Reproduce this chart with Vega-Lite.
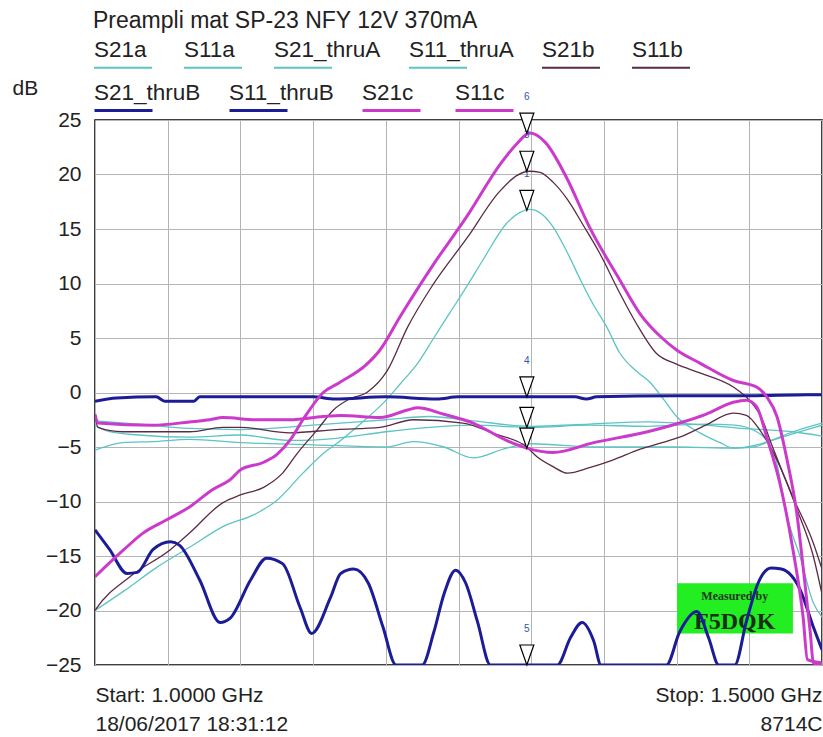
{
"$schema": "https://vega.github.io/schema/vega-lite/v6.json",
"width": 727, "height": 545,
"autosize": {"type": "none"},
"padding": {"left": 95, "top": 120, "right": 1, "bottom": 72},
"background": "white",
"config": {"font": "Liberation Sans", "view": {"stroke": "#000", "strokeWidth": 1.5}},
"datasets": {
"curves": [
{"s":"S21a","f":1000,"v":-20},{"s":"S21a","f":1020,"v":-18.2},{"s":"S21a","f":1043,"v":-16},{"s":"S21a","f":1065,"v":-14.2},{"s":"S21a","f":1088,"v":-12.3},{"s":"S21a","f":1111,"v":-11.1},{"s":"S21a","f":1125,"v":-9.9},{"s":"S21a","f":1143,"v":-7.4},{"s":"S21a","f":1157,"v":-5.6},{"s":"S21a","f":1169,"v":-4.4},{"s":"S21a","f":1185,"v":-2.6},{"s":"S21a","f":1198,"v":-1.0},{"s":"S21a","f":1210,"v":0.8},{"s":"S21a","f":1222,"v":2.7},{"s":"S21a","f":1233,"v":5.0},{"s":"S21a","f":1244,"v":7.3},{"s":"S21a","f":1256,"v":9.8},{"s":"S21a","f":1267,"v":12.2},{"s":"S21a","f":1283,"v":15.5},{"s":"S21a","f":1292,"v":16.5},{"s":"S21a","f":1299,"v":16.8},{"s":"S21a","f":1307,"v":16.4},{"s":"S21a","f":1315,"v":15.2},{"s":"S21a","f":1325,"v":12.8},{"s":"S21a","f":1334,"v":10.3},{"s":"S21a","f":1343,"v":8.0},{"s":"S21a","f":1352,"v":6.0},{"s":"S21a","f":1361,"v":3.6},{"s":"S21a","f":1372,"v":2.0},{"s":"S21a","f":1382,"v":0.9},{"s":"S21a","f":1392,"v":-0.8},{"s":"S21a","f":1400,"v":-2.2},{"s":"S21a","f":1416,"v":-3.7},{"s":"S21a","f":1430,"v":-4.6},{"s":"S21a","f":1439,"v":-5.1},{"s":"S21a","f":1453,"v":-5.0},{"s":"S21a","f":1465,"v":-4.4},{"s":"S21a","f":1480,"v":-3.6},{"s":"S21a","f":1500,"v":-2.8},
{"s":"S11a","f":1000,"v":-3.0},{"s":"S11a","f":1010,"v":-3.6},{"s":"S11a","f":1030,"v":-3.9},{"s":"S11a","f":1065,"v":-4.1},{"s":"S11a","f":1100,"v":-3.9},{"s":"S11a","f":1134,"v":-4.4},{"s":"S11a","f":1166,"v":-4.2},{"s":"S11a","f":1200,"v":-3.6},{"s":"S11a","f":1230,"v":-3.2},{"s":"S11a","f":1260,"v":-3.0},{"s":"S11a","f":1300,"v":-3.2},{"s":"S11a","f":1340,"v":-3.0},{"s":"S11a","f":1380,"v":-3.1},{"s":"S11a","f":1420,"v":-2.9},{"s":"S11a","f":1440,"v":-3.0},{"s":"S11a","f":1455,"v":-3.6},{"s":"S11a","f":1462,"v":-4.4},{"s":"S11a","f":1468,"v":-6.0},{"s":"S11a","f":1476,"v":-11.4},{"s":"S11a","f":1485,"v":-15.1},{"s":"S11a","f":1494,"v":-19.3},{"s":"S11a","f":1500,"v":-20.6},
{"s":"S21_thruA","f":1000,"v":-5.3},{"s":"S21_thruA","f":1019,"v":-4.6},{"s":"S21_thruA","f":1040,"v":-4.5},{"s":"S21_thruA","f":1065,"v":-4.3},{"s":"S21_thruA","f":1100,"v":-4.6},{"s":"S21_thruA","f":1150,"v":-4.8},{"s":"S21_thruA","f":1200,"v":-5.0},{"s":"S21_thruA","f":1219,"v":-4.5},{"s":"S21_thruA","f":1240,"v":-5.0},{"s":"S21_thruA","f":1260,"v":-6.0},{"s":"S21_thruA","f":1283,"v":-5.1},{"s":"S21_thruA","f":1300,"v":-4.7},{"s":"S21_thruA","f":1345,"v":-5.0},{"s":"S21_thruA","f":1400,"v":-5.0},{"s":"S21_thruA","f":1440,"v":-5.1},{"s":"S21_thruA","f":1455,"v":-4.8},{"s":"S21_thruA","f":1470,"v":-4.2},{"s":"S21_thruA","f":1485,"v":-3.6},{"s":"S21_thruA","f":1500,"v":-3.0},
{"s":"S11_thruA","f":1000,"v":-2.6},{"s":"S11_thruA","f":1030,"v":-2.9},{"s":"S11_thruA","f":1065,"v":-3.3},{"s":"S11_thruA","f":1100,"v":-3.4},{"s":"S11_thruA","f":1150,"v":-3.0},{"s":"S11_thruA","f":1200,"v":-2.5},{"s":"S11_thruA","f":1230,"v":-2.2},{"s":"S11_thruA","f":1260,"v":-2.6},{"s":"S11_thruA","f":1300,"v":-3.1},{"s":"S11_thruA","f":1340,"v":-2.9},{"s":"S11_thruA","f":1380,"v":-2.7},{"s":"S11_thruA","f":1420,"v":-3.0},{"s":"S11_thruA","f":1445,"v":-3.3},{"s":"S11_thruA","f":1460,"v":-3.4},{"s":"S11_thruA","f":1480,"v":-3.6},{"s":"S11_thruA","f":1500,"v":-4.0},
{"s":"S21b","f":1000,"v":-20},{"s":"S21b","f":1001,"v":-19.8},{"s":"S21b","f":1024,"v":-16.9},{"s":"S21b","f":1052,"v":-14.4},{"s":"S21b","f":1065,"v":-12.9},{"s":"S21b","f":1088,"v":-10.1},{"s":"S21b","f":1100,"v":-9.4},{"s":"S21b","f":1116,"v":-8.7},{"s":"S21b","f":1129,"v":-7.4},{"s":"S21b","f":1139,"v":-5.6},{"s":"S21b","f":1153,"v":-3.4},{"s":"S21b","f":1164,"v":-1.6},{"s":"S21b","f":1175,"v":-0.6},{"s":"S21b","f":1187,"v":0},{"s":"S21b","f":1201,"v":2.0},{"s":"S21b","f":1215,"v":6.0},{"s":"S21b","f":1232,"v":9.8},{"s":"S21b","f":1256,"v":14.2},{"s":"S21b","f":1278,"v":18.4},{"s":"S21b","f":1290,"v":19.9},{"s":"S21b","f":1299,"v":20.3},{"s":"S21b","f":1306,"v":20.2},{"s":"S21b","f":1315,"v":19.3},{"s":"S21b","f":1325,"v":17.7},{"s":"S21b","f":1336,"v":15.3},{"s":"S21b","f":1347,"v":12.8},{"s":"S21b","f":1361,"v":9.1},{"s":"S21b","f":1372,"v":6.4},{"s":"S21b","f":1386,"v":3.6},{"s":"S21b","f":1400,"v":2.6},{"s":"S21b","f":1416,"v":1.8},{"s":"S21b","f":1439,"v":0.5},{"s":"S21b","f":1450,"v":-0.7},{"s":"S21b","f":1458,"v":-2.2},{"s":"S21b","f":1466,"v":-5.0},{"s":"S21b","f":1480,"v":-9.6},{"s":"S21b","f":1494,"v":-13.8},{"s":"S21b","f":1500,"v":-16.2},
{"s":"S11b","f":1000,"v":-2.0},{"s":"S11b","f":1002,"v":-3.2},{"s":"S11b","f":1019,"v":-3.6},{"s":"S11b","f":1065,"v":-3.6},{"s":"S11b","f":1088,"v":-3.2},{"s":"S11b","f":1100,"v":-3.2},{"s":"S11b","f":1134,"v":-3.7},{"s":"S11b","f":1166,"v":-3.4},{"s":"S11b","f":1196,"v":-3.2},{"s":"S11b","f":1219,"v":-2.5},{"s":"S11b","f":1253,"v":-2.8},{"s":"S11b","f":1275,"v":-3.8},{"s":"S11b","f":1297,"v":-5.0},{"s":"S11b","f":1304,"v":-5.9},{"s":"S11b","f":1315,"v":-6.8},{"s":"S11b","f":1325,"v":-7.4},{"s":"S11b","f":1340,"v":-6.9},{"s":"S11b","f":1356,"v":-6.2},{"s":"S11b","f":1375,"v":-5.2},{"s":"S11b","f":1390,"v":-4.6},{"s":"S11b","f":1402,"v":-4.1},{"s":"S11b","f":1420,"v":-3.0},{"s":"S11b","f":1439,"v":-1.9},{"s":"S11b","f":1448,"v":-2.1},{"s":"S11b","f":1457,"v":-3.4},{"s":"S11b","f":1469,"v":-6.2},{"s":"S11b","f":1483,"v":-10.8},{"s":"S11b","f":1494,"v":-15.0},{"s":"S11b","f":1500,"v":-18.5},
{"s":"S21_thruB","f":1000,"v":-0.8},{"s":"S21_thruB","f":1015,"v":-0.5},{"s":"S21_thruB","f":1042,"v":-0.4},{"s":"S21_thruB","f":1048,"v":-0.8},{"s":"S21_thruB","f":1068,"v":-0.8},{"s":"S21_thruB","f":1072,"v":-0.4},{"s":"S21_thruB","f":1150,"v":-0.4},{"s":"S21_thruB","f":1165,"v":-0.6},{"s":"S21_thruB","f":1200,"v":-0.4},{"s":"S21_thruB","f":1235,"v":-0.6},{"s":"S21_thruB","f":1250,"v":-0.4},{"s":"S21_thruB","f":1330,"v":-0.4},{"s":"S21_thruB","f":1338,"v":-0.6},{"s":"S21_thruB","f":1345,"v":-0.4},{"s":"S21_thruB","f":1400,"v":-0.3},{"s":"S21_thruB","f":1450,"v":-0.3},{"s":"S21_thruB","f":1490,"v":-0.2},{"s":"S21_thruB","f":1500,"v":-0.2},
{"s":"S11_thruB","f":1000,"v":-12.6},{"s":"S11_thruB","f":1010,"v":-14.4},{"s":"S11_thruB","f":1022,"v":-16.6},{"s":"S11_thruB","f":1029,"v":-16.5},{"s":"S11_thruB","f":1040,"v":-14.4},{"s":"S11_thruB","f":1052,"v":-13.7},{"s":"S11_thruB","f":1058,"v":-14.0},{"s":"S11_thruB","f":1072,"v":-17.2},{"s":"S11_thruB","f":1086,"v":-21.1},{"s":"S11_thruB","f":1093,"v":-20.7},{"s":"S11_thruB","f":1107,"v":-17.2},{"s":"S11_thruB","f":1118,"v":-15.2},{"s":"S11_thruB","f":1129,"v":-15.7},{"s":"S11_thruB","f":1141,"v":-19.7},{"s":"S11_thruB","f":1149,"v":-22.1},{"s":"S11_thruB","f":1162,"v":-18.8},{"s":"S11_thruB","f":1169,"v":-16.6},{"s":"S11_thruB","f":1178,"v":-16.2},{"s":"S11_thruB","f":1188,"v":-17.5},{"s":"S11_thruB","f":1198,"v":-21.5},{"s":"S11_thruB","f":1207,"v":-25},{"s":"S11_thruB","f":1225,"v":-25},{"s":"S11_thruB","f":1233,"v":-22},{"s":"S11_thruB","f":1240,"v":-18.5},{"s":"S11_thruB","f":1248,"v":-16.3},{"s":"S11_thruB","f":1255,"v":-17.5},{"s":"S11_thruB","f":1263,"v":-21},{"s":"S11_thruB","f":1272,"v":-25},{"s":"S11_thruB","f":1318,"v":-25},{"s":"S11_thruB","f":1327,"v":-22.5},{"s":"S11_thruB","f":1335,"v":-21.1},{"s":"S11_thruB","f":1343,"v":-22.8},{"s":"S11_thruB","f":1348,"v":-25},{"s":"S11_thruB","f":1393,"v":-25},{"s":"S11_thruB","f":1402,"v":-22},{"s":"S11_thruB","f":1414,"v":-20.1},{"s":"S11_thruB","f":1422,"v":-22.5},{"s":"S11_thruB","f":1429,"v":-25},{"s":"S11_thruB","f":1440,"v":-25},{"s":"S11_thruB","f":1448,"v":-21},{"s":"S11_thruB","f":1456,"v":-17.5},{"s":"S11_thruB","f":1465,"v":-16.1},{"s":"S11_thruB","f":1472,"v":-16.2},{"s":"S11_thruB","f":1485,"v":-18.1},{"s":"S11_thruB","f":1494,"v":-21.5},{"s":"S11_thruB","f":1500,"v":-23.6},
{"s":"S21c","f":1000,"v":-16.9},{"s":"S21c","f":1020,"v":-14.4},{"s":"S21c","f":1033,"v":-12.9},{"s":"S21c","f":1049,"v":-11.7},{"s":"S21c","f":1065,"v":-10.5},{"s":"S21c","f":1081,"v":-8.9},{"s":"S21c","f":1093,"v":-8.0},{"s":"S21c","f":1100,"v":-7.1},{"s":"S21c","f":1116,"v":-6.4},{"s":"S21c","f":1125,"v":-5.7},{"s":"S21c","f":1134,"v":-4.4},{"s":"S21c","f":1143,"v":-2.5},{"s":"S21c","f":1157,"v":0.0},{"s":"S21c","f":1168,"v":0.9},{"s":"S21c","f":1187,"v":2.6},{"s":"S21c","f":1196,"v":3.9},{"s":"S21c","f":1210,"v":7.0},{"s":"S21c","f":1232,"v":11.6},{"s":"S21c","f":1256,"v":16.2},{"s":"S21c","f":1279,"v":21.0},{"s":"S21c","f":1290,"v":22.8},{"s":"S21c","f":1299,"v":23.8},{"s":"S21c","f":1310,"v":22.9},{"s":"S21c","f":1324,"v":19.8},{"s":"S21c","f":1340,"v":15.2},{"s":"S21c","f":1361,"v":10.3},{"s":"S21c","f":1375,"v":7.2},{"s":"S21c","f":1390,"v":5.0},{"s":"S21c","f":1400,"v":3.9},{"s":"S21c","f":1416,"v":2.7},{"s":"S21c","f":1439,"v":1.1},{"s":"S21c","f":1455,"v":0.5},{"s":"S21c","f":1462,"v":-0.4},{"s":"S21c","f":1469,"v":-2.2},{"s":"S21c","f":1476,"v":-6.2},{"s":"S21c","f":1483,"v":-11.4},{"s":"S21c","f":1487,"v":-16.0},{"s":"S21c","f":1492,"v":-22.1},{"s":"S21c","f":1494,"v":-24.8},{"s":"S21c","f":1500,"v":-25},
{"s":"S11c","f":1000,"v":-2.0},{"s":"S11c","f":1002,"v":-2.8},{"s":"S11c","f":1040,"v":-3.0},{"s":"S11c","f":1065,"v":-2.7},{"s":"S11c","f":1079,"v":-2.5},{"s":"S11c","f":1088,"v":-2.3},{"s":"S11c","f":1111,"v":-2.5},{"s":"S11c","f":1134,"v":-2.5},{"s":"S11c","f":1157,"v":-2.2},{"s":"S11c","f":1169,"v":-2.1},{"s":"S11c","f":1196,"v":-2.3},{"s":"S11c","f":1215,"v":-1.6},{"s":"S11c","f":1222,"v":-1.4},{"s":"S11c","f":1240,"v":-2.0},{"s":"S11c","f":1260,"v":-2.8},{"s":"S11c","f":1283,"v":-4.4},{"s":"S11c","f":1297,"v":-5.1},{"s":"S11c","f":1315,"v":-5.5},{"s":"S11c","f":1343,"v":-4.6},{"s":"S11c","f":1380,"v":-3.6},{"s":"S11c","f":1402,"v":-2.8},{"s":"S11c","f":1420,"v":-2.0},{"s":"S11c","f":1439,"v":-0.9},{"s":"S11c","f":1448,"v":-0.7},{"s":"S11c","f":1455,"v":-1.3},{"s":"S11c","f":1462,"v":-4.1},{"s":"S11c","f":1471,"v":-8.3},{"s":"S11c","f":1480,"v":-14.4},{"s":"S11c","f":1487,"v":-20.6},{"s":"S11c","f":1490,"v":-24.5},{"s":"S11c","f":1500,"v":-24.8}
],
"markers": [
{"f":1297,"v":23.8,"n":"6"},{"f":1297,"v":20.3,"n":"3"},{"f":1297,"v":16.7,"n":"1"},{"f":1297,"v":-0.4,"n":"4"},{"f":1297,"v":-3.2,"n":"2"},{"f":1297,"v":-5.1,"n":""},{"f":1297,"v":-25,"n":"5"}
]
},
"layer": [
{"data": {"values": [{"f":1400.3,"f2":1480,"v":-17.5,"v2":-22.1}]},
 "mark": {"type": "rect", "color": "#22ee22"},
 "encoding": {"x": {"field": "f", "type": "quantitative"}, "x2": {"field": "f2"}, "y": {"field": "v", "type": "quantitative"}, "y2": {"field": "v2"}}},
{"data": {"values": [{"f":1440,"v":-18.7,"t":"Measured by"}]},
 "mark": {"type": "text", "font": "Liberation Serif", "fontWeight": "bold", "fontSize": 12, "color": "#1e3a1e"},
 "encoding": {"x": {"field": "f", "type": "quantitative"}, "y": {"field": "v", "type": "quantitative"}, "text": {"field": "t"}}},
{"data": {"values": [{"f":1440,"v":-21.1,"t":"F5DQK"}]},
 "mark": {"type": "text", "font": "Liberation Serif", "fontWeight": "bold", "fontSize": 24, "color": "#1a2e1a"},
 "encoding": {"x": {"field": "f", "type": "quantitative"}, "y": {"field": "v", "type": "quantitative"}, "text": {"field": "t"}}},
{"data": {"name": "curves"},
 "transform": [{"filter": {"field": "s", "oneOf": ["S21a","S11a","S21_thruA","S11_thruA","S21b","S11b"]}}],
 "mark": {"type": "line", "clip": true, "strokeJoin": "round", "strokeWidth": 1.3, "interpolate": "monotone"},
 "encoding": {
  "x": {"field": "f", "type": "quantitative", "scale": {"domain": [1000, 1500], "nice": false, "zero": false},
   "axis": {"title": null, "values": [1000,1050,1100,1150,1200,1250,1300,1350,1400,1450,1500], "grid": true, "gridColor": "#b4b4b4", "gridWidth": 1, "ticks": false, "domain": false, "labelFlush": true, "labelOverlap": false, "labelLimit": 500,
    "labelExpr": "datum.value == 1000 ? ['Start: 1.0000 GHz', '18/06/2017 18:31:12'] : (datum.value == 1500 ? ['Stop: 1.5000 GHz', '8714C'] : '')",
    "labelBaseline": "top", "labelPadding": 19, "labelLineHeight": 29, "labelFontSize": 21, "labelColor": "#222", "labelFont": "Liberation Sans"}},
  "y": {"field": "v", "type": "quantitative", "scale": {"domain": [-25, 25], "nice": false, "zero": false},
   "axis": {"title": "dB", "titleAngle": 0, "titleX": -83, "titleY": -26, "titleAlign": "left", "titleBaseline": "alphabetic", "titleFontSize": 21, "titleFontWeight": "normal", "titleColor": "#222", "titleFont": "Liberation Sans",
    "values": [-25,-20,-15,-10,-5,0,5,10,15,20,25], "grid": true, "gridColor": "#b4b4b4", "gridWidth": 1, "ticks": false, "domain": false, "labelPadding": 14, "labelFontSize": 21, "labelColor": "#222", "labelFont": "Liberation Sans"}},
  "color": {"field": "s", "type": "nominal",
   "scale": {"domain": ["S21a","S11a","S21_thruA","S11_thruA","S21b","S11b"],
             "range": ["#5cc4c4","#5cc4c4","#5cc4c4","#5cc4c4","#5c2a45","#5c2a45"]},
   "legend": {"orient": "none", "legendX": -2, "legendY": -110, "direction": "horizontal",
    "title": "Preampli mat SP-23 NFY 12V 370mA", "titleFontSize": 23, "titleFontWeight": "normal", "titleColor": "#222", "titleFont": "Liberation Sans", "titleAnchor": "start", "titleBaseline": "top", "titlePadding": -6, "titleLimit": 800,
    "labelFontSize": 22.5, "labelColor": "#222", "labelFont": "Liberation Sans", "labelBaseline": "alphabetic", "labelOffset": -59, "labelLimit": 300,
    "symbolType": "M-1,0.37L1,0.37", "symbolSize": 3364, "symbolStrokeWidth": 2, "columnPadding": 24, "padding": 0}}
 }},
{"data": {"name": "curves"},
 "transform": [{"filter": {"field": "s", "oneOf": ["S21_thruB","S11_thruB","S21c","S11c"]}}],
 "mark": {"type": "line", "clip": true, "strokeJoin": "round", "strokeWidth": 3, "interpolate": "monotone"},
 "encoding": {
  "x": {"field": "f", "type": "quantitative"},
  "y": {"field": "v", "type": "quantitative"},
  "stroke": {"field": "s", "type": "nominal",
   "scale": {"domain": ["S21_thruB","S11_thruB","S21c","S11c"],
             "range": ["#1c1c96","#1c1c96","#cc3acc","#cc3acc"]},
   "legend": {"orient": "none", "legendX": -2, "legendY": -51, "direction": "horizontal", "title": null,
    "labelFontSize": 22.5, "labelColor": "#222", "labelFont": "Liberation Sans", "labelBaseline": "alphabetic", "labelOffset": -60, "labelLimit": 300,
    "symbolType": "M-1,0.37L1,0.37", "symbolSize": 3364, "symbolStrokeWidth": 3, "columnPadding": 22, "padding": 0}}
 }},
{"data": {"name": "markers"},
 "mark": {"type": "text", "fontSize": 10, "color": "#3355aa", "dy": -36},
 "encoding": {"x": {"field": "f", "type": "quantitative"}, "y": {"field": "v", "type": "quantitative"}, "text": {"field": "n"}}},
{"data": {"name": "markers"},
 "mark": {"type": "point", "shape": "M-0.7,-2L0.7,-2L0,0Z", "size": 400, "filled": true, "fill": "white", "stroke": "black", "strokeWidth": 1.2, "opacity": 1},
 "encoding": {"x": {"field": "f", "type": "quantitative"}, "y": {"field": "v", "type": "quantitative"}}}
]
}
